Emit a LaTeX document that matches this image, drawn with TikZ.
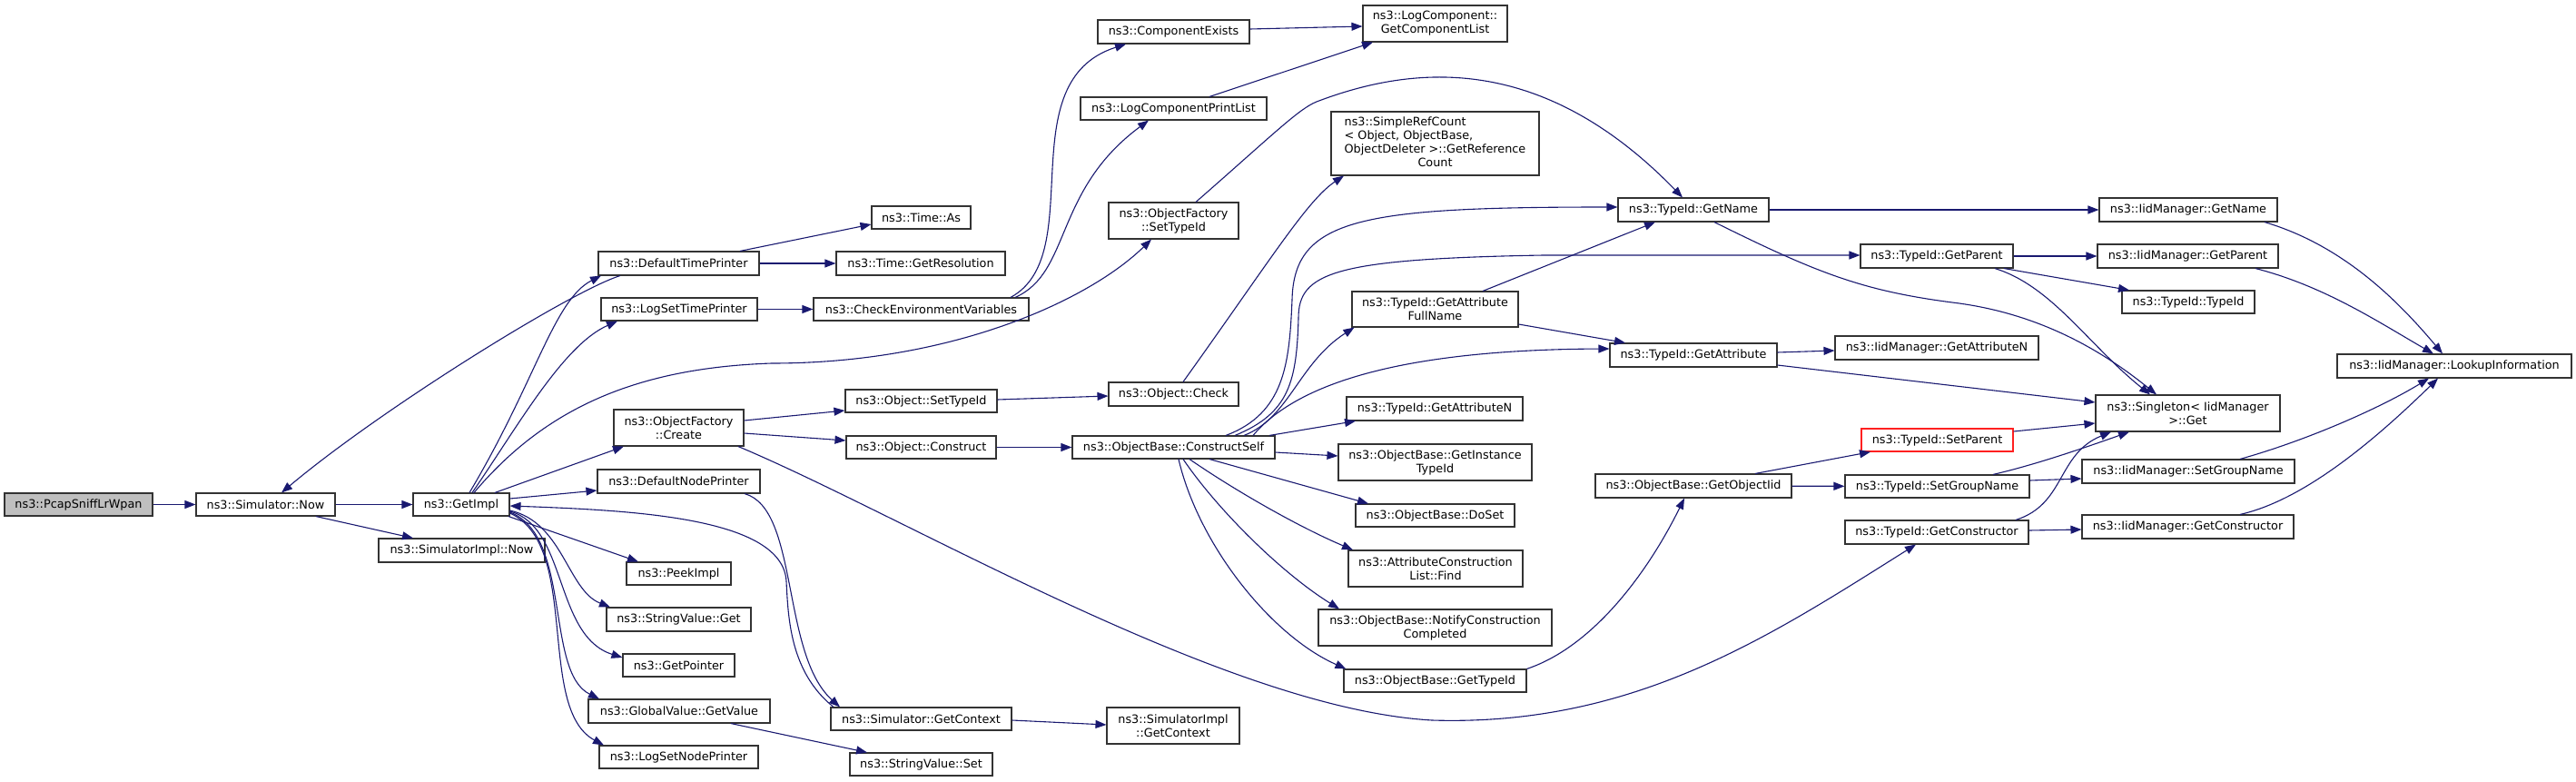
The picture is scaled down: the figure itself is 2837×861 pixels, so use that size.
\documentclass[tikz,border=0pt]{standalone}
\usepackage{fontspec}
\setmainfont{DejaVu Sans}
\usetikzlibrary{arrows.meta}
\definecolor{edgeblue}{HTML}{191970}
\definecolor{boxline}{HTML}{333333}
\definecolor{rootfill}{HTML}{BFBFBF}
\definecolor{trunc}{HTML}{FF2020}
\newcommand\nd[7]{\node[box,minimum width=#5pt,minimum height=#6pt,#1] (#2) at (#3,#4) {#7};}
\begin{document}
\begin{tikzpicture}[x=1pt,y=-1pt,
 box/.style={draw=boxline, fill=white, line width=1.1pt, inner sep=0pt, align=center, font=\fontsize{12.8}{15}\selectfont},
 edge/.style={draw=edgeblue, line width=1.1pt, -{Triangle[length=12pt,width=9pt]}}]
\useasboundingbox (0,0) rectangle (2837,861);
\nd{fill=rootfill}{pcap}{86.5}{555.5}{163}{25}{ns3::PcapSniffLrWpan}
\nd{}{snow}{292.5}{555.5}{153}{25}{ns3::Simulator::Now}
\nd{}{getimpl}{508}{555.5}{106}{25}{ns3::GetImpl}
\nd{}{simplnow}{508.5}{606}{183}{26}{ns3::SimulatorImpl::Now}
\nd{}{dtp}{747.5}{290}{177}{26}{ns3::DefaultTimePrinter}
\nd{}{lstp}{748}{340.5}{172}{25}{ns3::LogSetTimePrinter}
\nd{}{ofcreate}{747.5}{471}{143}{40}{ns3::ObjectFactory\\::Create}
\nd{}{dnp}{747.5}{530}{179}{26}{ns3::DefaultNodePrinter}
\nd{}{peek}{747.5}{631.5}{115}{25}{ns3::PeekImpl}
\nd{}{svget}{747.5}{682}{159}{26}{ns3::StringValue::Get}
\nd{}{getptr}{747.5}{732.5}{123}{25}{ns3::GetPointer}
\nd{}{gvget}{748}{783}{200}{26}{ns3::GlobalValue::GetValue}
\nd{}{lsnp}{747.5}{833.5}{175}{25}{ns3::LogSetNodePrinter}
\nd{}{timeas}{1014.5}{239.5}{109}{25}{ns3::Time::As}
\nd{}{timeres}{1014}{290}{186}{26}{ns3::Time::GetResolution}
\nd{}{cev}{1014.5}{340.5}{237}{25}{ns3::CheckEnvironmentVariables}
\nd{}{compex}{1292.5}{35}{167}{26}{ns3::ComponentExists}
\nd{}{lcpl}{1292.5}{119.5}{205}{25}{ns3::LogComponentPrintList}
\nd{}{ofsettid}{1292.5}{243}{143}{40}{ns3::ObjectFactory\\::SetTypeId}
\nd{}{ocheck}{1292.5}{434}{143}{26}{ns3::Object::Check}
\nd{}{osettid}{1014.5}{441.5}{167}{25}{ns3::Object::SetTypeId}
\nd{}{oconstruct}{1014.5}{492.5}{165}{25}{ns3::Object::Construct}
\nd{}{cself}{1292.5}{492.5}{223}{25}{ns3::ObjectBase::ConstructSelf}
\nd{}{sgetctx}{1014.5}{791.5}{199}{25}{ns3::Simulator::GetContext}
\nd{}{sigetctx}{1292}{799}{146}{40}{ns3::SimulatorImpl\\::GetContext}
\nd{}{svset}{1014.5}{841.5}{157}{25}{ns3::StringValue::Set}
\nd{}{lcgcl}{1580.5}{26}{159}{40}{ns3::LogComponent::\\GetComponentList}
\nd{}{srefc}{1580.5}{158}{229}{70}{\begin{tabular}{@{}l@{}}ns3::SimpleRefCount\\< Object, ObjectBase,\\\multicolumn{1}{@{}c@{}}{ ObjectDeleter >::GetReference}\\\multicolumn{1}{@{}c@{}}{Count}\end{tabular}}
\nd{}{tgetname}{1865}{231}{166}{26}{ns3::TypeId::GetName}
\nd{}{tgafn}{1580.5}{340.5}{183}{39}{ns3::TypeId::GetAttribute\\FullName}
\nd{}{tgetattr}{1865}{391}{184}{26}{ns3::TypeId::GetAttribute}
\nd{}{tgetparent}{2133}{282}{168}{26}{ns3::TypeId::GetParent}
\nd{}{igetattrn}{2133}{383}{224}{26}{ns3::IidManager::GetAttributeN}
\nd{}{tgetattrn}{1580}{450}{194}{26}{ns3::TypeId::GetAttributeN}
\nd{}{obgit}{1580.5}{509}{213}{40}{ns3::ObjectBase::GetInstance\\TypeId}
\nd{}{obdoset}{1580.5}{567.5}{175}{25}{ns3::ObjectBase::DoSet}
\nd{}{acfind}{1581}{626}{192}{40}{ns3::AttributeConstruction\\List::Find}
\nd{}{obncc}{1580.5}{691}{257}{40}{ns3::ObjectBase::NotifyConstruction\\Completed}
\nd{}{obgettid}{1580.5}{749.5}{201}{25}{ns3::ObjectBase::GetTypeId}
\nd{}{obgoi}{1865}{535}{216}{26}{ns3::ObjectBase::GetObjectIid}
\nd{draw=trunc}{tsetparent}{2133.5}{484.5}{167}{25}{ns3::TypeId::SetParent}
\nd{}{tsetgroup}{2133.5}{535.5}{203}{25}{ns3::TypeId::SetGroupName}
\nd{}{tgetctor}{2133}{586}{202}{26}{ns3::TypeId::GetConstructor}
\nd{}{sget}{2409.5}{455}{203}{40}{ns3::Singleton< IidManager\\ >::Get}
\nd{}{igetname}{2410}{231}{196}{26}{ns3::IidManager::GetName}
\nd{}{igetparent}{2409.5}{282}{199}{26}{ns3::IidManager::GetParent}
\nd{}{ttypeid}{2410}{332.5}{146}{25}{ns3::TypeId::TypeId}
\nd{}{isetgroup}{2410}{519}{234}{26}{ns3::IidManager::SetGroupName}
\nd{}{igetctor}{2409.5}{580}{233}{26}{ns3::IidManager::GetConstructor}
\nd{}{lookup}{2703}{403}{258}{26}{ns3::IidManager::LookupInformation}
% edges
\draw[edge] (pcap) -- (snow);
\draw[edge] (snow) -- (getimpl);
\draw[edge] ([xshift=55.5pt]snow.south) -- ([xshift=-53.5pt]simplnow.north);
\draw[edge] ([xshift=-64.5pt]dtp.south) .. controls (630,320) and (420,450) .. ([xshift=17.5pt]snow.north);
\draw[edge] ([xshift=9pt]getimpl.north) .. controls (590,420) and (610,330) .. ([xshift=-85.5pt]dtp.south);
\draw[edge] ([xshift=12pt]getimpl.north) .. controls (570,470) and (620,380) .. ([xshift=-68pt]lstp.south);
\draw[edge] ([xshift=14pt]getimpl.north) .. controls (600,450) and (700,405) .. (850,400) .. controls (1050,400) and (1200,330) .. ([xshift=-24.5pt]ofsettid.south);
\draw[edge] ([xshift=37pt]getimpl.north) -- ([xshift=-60.5pt]ofcreate.south);
\draw[edge] ([yshift=6.5pt]getimpl.east) -- ([yshift=-10pt]dnp.west);
\draw[edge] ([xshift=52pt]getimpl.south) -- ([xshift=-44.5pt]peek.north);
\draw[edge] ([yshift=-6.5pt]getimpl.east) .. controls (620,575) and (625,650) .. ([xshift=-75.5pt]svget.north);
\draw[edge] ([yshift=-7.5pt]getimpl.east) .. controls (625,580) and (610,700) .. ([yshift=8.5pt]getptr.west);
\draw[edge] ([yshift=-8.5pt]getimpl.east) .. controls (630,590) and (600,740) .. ([xshift=-88pt]gvget.north);
\draw[edge] ([yshift=-9.5pt]getimpl.east) .. controls (640,600) and (590,780) .. ([xshift=-82.5pt]lsnp.north);
\draw[edge] ([xshift=72.5pt]dnp.south) .. controls (880,560) and (860,720) .. ([xshift=-89.5pt]sgetctx.north);
\draw[edge] ([xshift=-96.5pt]sgetctx.north) .. controls (870,740) and (868,680) .. (866,640) .. controls (862,570) and (700,562) .. ([yshift=-1.5pt]getimpl.east);
\draw[edge] ([xshift=57pt]gvget.south) -- ([xshift=-59.5pt]svset.north);
\draw[edge] ([yshift=-1.5pt]sgetctx.east) -- ([yshift=1pt]sigetctx.west);
\draw[edge] ([xshift=67.5pt]dtp.north) -- ([yshift=-7.5pt]timeas.west);
\draw[edge] (dtp) -- (timeres);
\draw[edge] (lstp) -- (cev);
\draw[edge] ([xshift=98.5pt]cev.north) .. controls (1200,280) and (1110,90) .. ([xshift=-52.5pt]compex.south);
\draw[edge] ([xshift=103.5pt]cev.north) .. controls (1180,300) and (1160,210) .. ([xshift=-27.5pt]lcpl.south);
\draw[edge] ([yshift=3pt]compex.east) -- ([yshift=-3pt]lcgcl.west);
\draw[edge] ([xshift=39.5pt]lcpl.north) -- ([xshift=-68.5pt]lcgcl.south);
\draw[edge] ([xshift=24.5pt]ofsettid.north) .. controls (1400,150) and (1430,120) .. (1450,112) .. controls (1560,70) and (1700,60) .. ([xshift=-12pt]tgetname.north);
\draw[edge] ([xshift=10.5pt]ocheck.north) .. controls (1400,285) and (1440,220) .. ([xshift=-100.5pt]srefc.south);
\draw[edge] ([yshift=8pt]ofcreate.east) -- ([yshift=-10.5pt]osettid.west);
\draw[edge] ([yshift=-6pt]ofcreate.east) -- ([yshift=7.5pt]oconstruct.west);
\draw[edge] ([xshift=65.5pt]ofcreate.south) .. controls (1000,570) and (1350,780) .. (1577,793) .. controls (1800,800) and (1950,700) .. ([xshift=-23pt]tgetctor.south);
\draw[edge] ([yshift=1.5pt]osettid.east) -- ([yshift=-2pt]ocheck.west);
\draw[edge] (oconstruct) -- (cself);
\draw[edge] ([xshift=57.5pt]cself.north) .. controls (1415,455) and (1420,400) .. (1423,330) .. controls (1425,240) and (1500,228) .. ([yshift=3pt]tgetname.west);
\draw[edge] ([xshift=67.5pt]cself.north) .. controls (1420,455) and (1428,420) .. (1430,350) .. controls (1430,300) and (1470,285) .. (1700,281) -- ([yshift=1pt]tgetparent.west);
\draw[edge] ([xshift=77.5pt]cself.north) .. controls (1420,460) and (1430,400) .. ([xshift=3pt]tgafn.south west);
\draw[edge] ([xshift=87.5pt]cself.north) .. controls (1430,420) and (1550,385) .. ([yshift=7pt]tgetattr.west);
\draw[edge] ([xshift=105.5pt]cself.north) -- ([xshift=-87pt]tgetattrn.south);
\draw[edge] ([yshift=-5.5pt]cself.east) -- ([yshift=7pt]obgit.west);
\draw[edge] ([xshift=39.5pt]cself.south) -- ([xshift=-73.5pt]obdoset.north);
\draw[edge] ([xshift=17.5pt]cself.south) .. controls (1360,540) and (1430,580) .. ([xshift=-91pt]acfind.north);
\draw[edge] ([xshift=10.5pt]cself.south) .. controls (1340,560) and (1410,630) .. ([xshift=-105.5pt]obncc.north);
\draw[edge] ([xshift=5.5pt]cself.south) .. controls (1320,600) and (1400,700) .. ([xshift=3pt]obgettid.north west);
\draw[edge] ([xshift=52.5pt]tgafn.north) -- ([xshift=-42pt]tgetname.south);
\draw[edge] ([yshift=-16.5pt]tgafn.east) -- ([xshift=-75pt]tgetattr.north);
\draw[edge] (tgetname) -- (igetname);
\draw[edge] ([xshift=23pt]tgetname.south) .. controls (2000,300) and (2050,320) .. (2150,333) .. controls (2250,345) and (2320,390) .. ([xshift=-34.5pt]sget.north);
\draw[edge] (tgetparent) -- (igetparent);
\draw[edge] ([xshift=74pt]tgetparent.south) -- ([xshift=-65pt]ttypeid.north);
\draw[edge] ([xshift=64pt]tgetparent.south) .. controls (2260,315) and (2300,380) .. ([xshift=-41.5pt]sget.north);
\draw[edge] ([yshift=3pt]tgetattr.east) -- ([yshift=-3pt]igetattrn.west);
\draw[edge] ([yshift=-11pt]tgetattr.east) -- ([yshift=12pt]sget.west);
\draw[edge] ([yshift=9.5pt]tsetparent.east) -- ([yshift=-11pt]sget.west);
\draw[edge] ([xshift=61.5pt]tsetgroup.north) .. controls (2240,512) and (2290,495) .. ([xshift=-64.5pt]sget.south);
\draw[edge] ([yshift=6.5pt]tsetgroup.east) -- ([yshift=-8pt]isetgroup.west);
\draw[edge] ([xshift=87pt]tgetctor.north) .. controls (2275,555) and (2265,500) .. ([xshift=-84.5pt]sget.south);
\draw[edge] ([yshift=2pt]tgetctor.east) -- ([yshift=-3pt]igetctor.west);
\draw[edge] (obgettid.north east) .. controls (1760,710) and (1820,620) .. ([xshift=-10pt]obgoi.south);
\draw[edge] ([xshift=68pt]obgoi.north) -- ([xshift=-73.5pt]tsetparent.south);
\draw[edge] (obgoi) -- (tsetgroup);
\draw[edge] ([xshift=84pt]igetname.south) .. controls (2580,270) and (2640,330) .. ([xshift=-13pt]lookup.north);
\draw[edge] ([xshift=74.5pt]igetparent.south) .. controls (2560,315) and (2620,355) .. ([xshift=-23pt]lookup.north);
\draw[edge] ([xshift=57pt]isetgroup.north) .. controls (2540,485) and (2620,450) .. ([xshift=-28pt]lookup.south);
\draw[edge] ([xshift=57.5pt]igetctor.north) .. controls (2540,550) and (2620,480) .. ([xshift=-18pt]lookup.south);
\end{tikzpicture}
\end{document}
